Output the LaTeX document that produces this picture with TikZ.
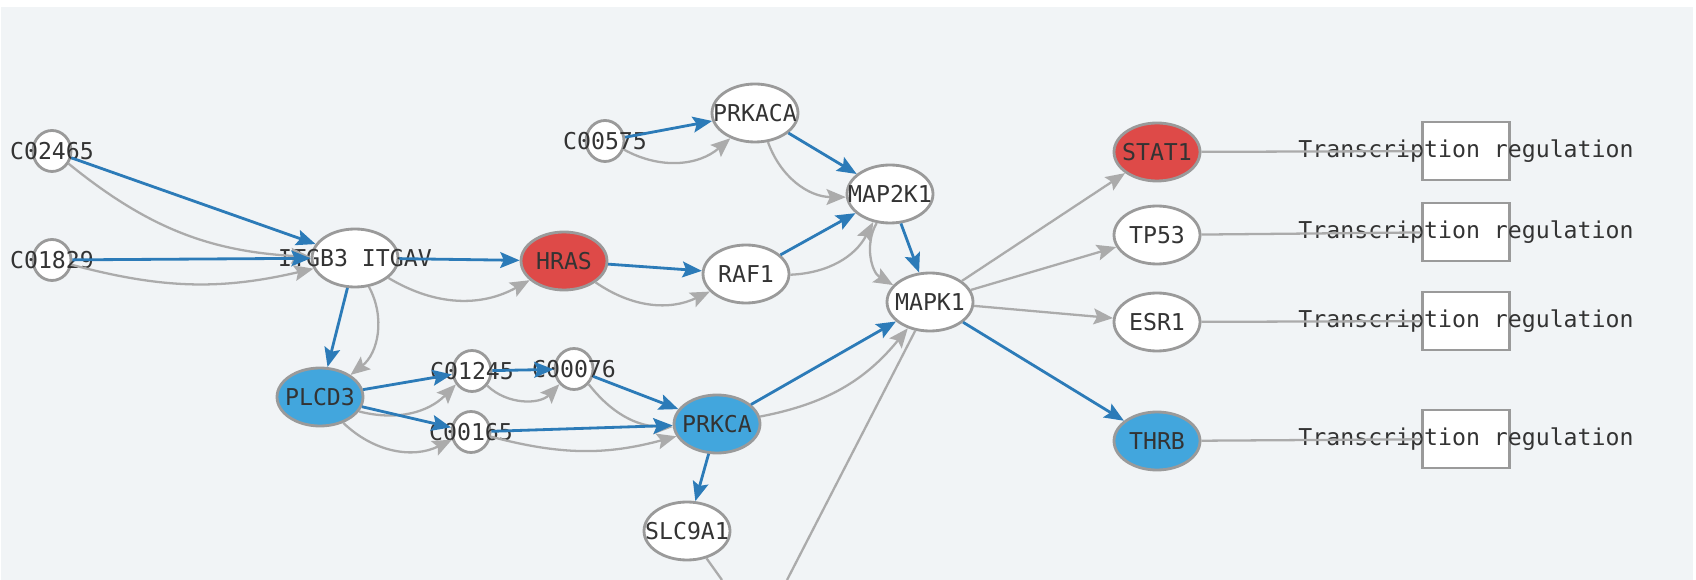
\documentclass[tikz,border=0pt]{standalone}
\usepackage{fontspec}
\newfontfamily\genefont{DejaVu Sans Mono}
\usetikzlibrary{arrows.meta, shapes.geometric, positioning}

\definecolor{bgcol}{HTML}{F1F4F6}
\definecolor{rimcol}{HTML}{9A9A9A}
\definecolor{redfill}{HTML}{DE4A48}
\definecolor{bluefill}{HTML}{42A6DD}
\definecolor{bluearc}{HTML}{2C7BB8}
\definecolor{greyarc}{HTML}{ABABAB}
\definecolor{txtcol}{HTML}{333333}

\newcommand{\overtxt}[1]{\makebox[0pt]{#1}}

\begin{document}
\begin{tikzpicture}[x=0.02cm, y=-0.02cm,
    >={Stealth[length=11pt, width=9pt, inset=2pt]},
    gene/.style={ellipse, draw=rimcol, line width=1.6pt, fill=white,
      minimum width=1.72cm, minimum height=1.16cm, inner sep=0pt,
      text=txtcol, font=\genefont\fontsize{13.2}{15}\selectfont},
    redgene/.style={gene, fill=redfill},
    bluegene/.style={gene, fill=bluefill},
    cpd/.style={gene, minimum width=0.76cm, minimum height=0.82cm},
    tbox/.style={gene, rectangle, minimum width=1.74cm, minimum height=1.16cm},
    act/.style={->, bluearc, line width=1.6pt},
    rel/.style={->, greyarc, line width=1.3pt},
    link/.style={greyarc, line width=1.3pt}]

      \fill[white] (0, 0) rectangle (1696, 580);
      \fill[bgcol] (1, 7) rectangle (1693, 580);
      \useasboundingbox (0, 0) rectangle (1696, 580);

      \node[cpd] (c02465) at (52, 151) {\overtxt{C02465}};
      \node[cpd] (c01829) at (52, 260) {\overtxt{C01829}};
      \node[gene] (itg) at (355, 258) {\overtxt{ITGB3 ITGAV}};
      \node[redgene] (hras) at (564, 261) {\overtxt{HRAS}};
      \node[gene] (raf1) at (746, 274) {\overtxt{RAF1}};
      \node[cpd] (c00575) at (605, 141) {\overtxt{C00575}};
      \node[gene] (prkaca) at (755, 113) {\overtxt{PRKACA}};
      \node[gene] (map2k1) at (890, 194) {\overtxt{MAP2K1}};
      \node[gene] (mapk1) at (930, 302) {\overtxt{MAPK1}};
      \node[bluegene] (plcd3) at (320, 397) {\overtxt{PLCD3}};
      \node[cpd] (c01245) at (472, 371) {\overtxt{C01245}};
      \node[cpd] (c00076) at (574, 369) {\overtxt{C00076}};
      \node[cpd] (c00165) at (471, 432) {\overtxt{C00165}};
      \node[bluegene] (prkca) at (717, 424) {\overtxt{PRKCA}};
      \node[gene] (slc9a1) at (687, 531) {\overtxt{SLC9A1}};

      \node[redgene] (stat1) at (1157, 152) {\overtxt{STAT1}};
      \node[gene] (tp53) at (1157, 235) {\overtxt{TP53}};
      \node[gene] (esr1) at (1157, 322) {\overtxt{ESR1}};
      \node[bluegene] (thrb) at (1157, 441) {\overtxt{THRB}};

      \node[tbox] (trans1) at (1466, 151) {\overtxt{Transcription regulation}};
      \node[tbox] (trans2) at (1466, 232) {\overtxt{Transcription regulation}};
      \node[tbox] (trans3) at (1466, 321) {\overtxt{Transcription regulation}};
      \node[tbox] (trans4) at (1466, 439) {\overtxt{Transcription regulation}};

      \coordinate (offa) at (787, 580);
      \coordinate (offb) at (722, 580);

      \draw[act] (c02465) -- (itg);
      \draw[rel] (c02465) to[bend right=18] (itg);
      \draw[act] (c01829) -- (itg);
      \draw[rel] (c01829) to[bend right=14] (itg);
      \draw[act] (itg) -- (hras);
      \draw[rel] (itg) to[bend right=30] (hras);
      \draw[act] (itg) -- (plcd3);
      \draw[rel] (itg) to[bend left=40] (plcd3);
      \draw[act] (hras) -- (raf1);
      \draw[rel] (hras) to[bend right=30] (raf1);
      \draw[act] (c00575) -- (prkaca);
      \draw[rel] (c00575) to[bend right=35] (prkaca);
      \draw[act] (prkaca) -- (map2k1);
      \draw[rel] (prkaca) to[bend right=35] (map2k1);
      \draw[act] (raf1) -- (map2k1);
      \draw[rel] (raf1) to[bend right=30] (map2k1);
      \draw[act] (map2k1) -- (mapk1);
      \draw[rel] (map2k1) to[bend right=45] (mapk1);
      \draw[act] (plcd3) -- (c01245);
      \draw[rel] (plcd3) to[bend right=30] (c01245);
      \draw[act] (plcd3) -- (c00165);
      \draw[rel] (plcd3) to[bend right=35] (c00165);
      \draw[act] (c01245) -- (c00076);
      \draw[rel] (c01245) to[bend right=45] (c00076);
      \draw[act] (c00076) -- (prkca);
      \draw[rel] (c00076) to[bend right=25] (prkca);
      \draw[act] (c00165) -- (prkca);
      \draw[rel] (c00165) to[bend right=15] (prkca);
      \draw[act] (prkca) -- (mapk1);
      \draw[rel] (prkca) to[bend right=20] (mapk1);
      \draw[act] (prkca) -- (slc9a1);

      \draw[rel] (mapk1) -- (stat1);
      \draw[rel] (mapk1) -- (tp53);
      \draw[rel] (mapk1) -- (esr1);
      \draw[act] (mapk1) -- (thrb);

      \draw[link] (stat1) -- (trans1);
      \draw[link] (tp53) -- (trans2);
      \draw[link] (esr1) -- (trans3);
      \draw[link] (thrb) -- (trans4);

      \draw[link] (mapk1) -- (offa);
      \draw[link] (slc9a1) -- (offb);

    \end{tikzpicture}
\end{document}
